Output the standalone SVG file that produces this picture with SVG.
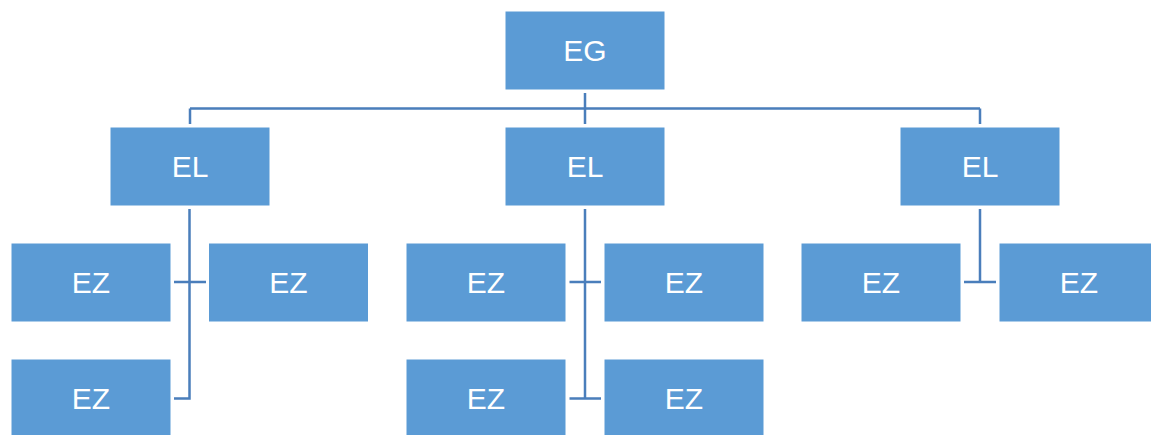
<svg xmlns="http://www.w3.org/2000/svg" width="1151" height="435" viewBox="0 0 1151 435">
<style>
.box{fill:#5B9BD5;stroke:#ffffff;stroke-width:1}
.lbl{fill:#ffffff;font-family:"Liberation Sans",Arial,sans-serif;font-size:30px;text-anchor:middle}
.con{fill:none;stroke:#4A7EBB;stroke-width:2.5}
</style>
<rect width="1151" height="435" fill="#ffffff"/>
<g id="connectors">
<path class="con" d="M585,93 V124 M190,108.5 H980 M190,108.5 V124 M980,108.5 V124"/>
<path class="con" d="M189.5,209 V398.5 H174 M174,282 H206"/>
<path class="con" d="M585,209 V398.5 M569.5,282 H601 M569.5,398.5 H601"/>
<path class="con" d="M980,209 V282 M964,282 H996"/>
</g>
<g id="eg"><rect class="box" x="505" y="11" width="160" height="79"/><text class="lbl" x="585" y="61">EG</text></g>
<g id="el1"><rect class="box" x="110" y="127" width="160" height="79"/><text class="lbl" x="190" y="177">EL</text></g>
<g id="el2"><rect class="box" x="505" y="127" width="160" height="79"/><text class="lbl" x="585" y="177">EL</text></g>
<g id="el3"><rect class="box" x="900" y="127" width="160" height="79"/><text class="lbl" x="980" y="177">EL</text></g>
<g id="ez1"><rect class="box" x="11" y="243" width="160" height="79"/><text class="lbl" x="91" y="293">EZ</text></g>
<g id="ez2"><rect class="box" x="208.5" y="243" width="160" height="79"/><text class="lbl" x="288.5" y="293">EZ</text></g>
<g id="ez3"><rect class="box" x="11" y="359" width="160" height="79"/><text class="lbl" x="91" y="409">EZ</text></g>
<g id="ez4"><rect class="box" x="406" y="243" width="160" height="79"/><text class="lbl" x="486" y="293">EZ</text></g>
<g id="ez5"><rect class="box" x="604" y="243" width="160" height="79"/><text class="lbl" x="684" y="293">EZ</text></g>
<g id="ez6"><rect class="box" x="406" y="359" width="160" height="79"/><text class="lbl" x="486" y="409">EZ</text></g>
<g id="ez7"><rect class="box" x="604" y="359" width="160" height="79"/><text class="lbl" x="684" y="409">EZ</text></g>
<g id="ez8"><rect class="box" x="801" y="243" width="160" height="79"/><text class="lbl" x="881" y="293">EZ</text></g>
<g id="ez9"><rect class="box" x="999" y="243" width="160" height="79"/><text class="lbl" x="1079" y="293">EZ</text></g>
</svg>
